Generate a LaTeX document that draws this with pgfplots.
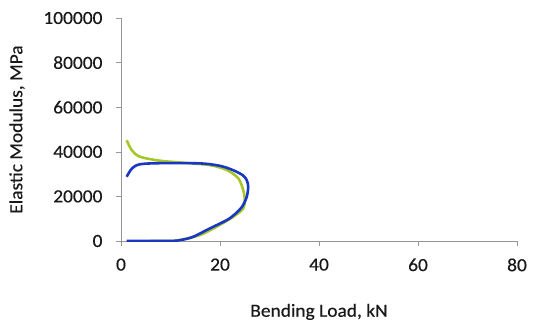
\documentclass[border=0pt]{standalone}
\usepackage{pgfplots}
\pgfplotsset{compat=1.18}
\usepackage{fontspec}
\setmainfont{Carlito}[FakeStretch=1.05,FakeBold=0.4]
\definecolor{bl}{RGB}{25,55,195}
\definecolor{gr}{RGB}{165,200,40}
\definecolor{ax}{RGB}{150,150,150}
\begin{document}
\begin{tikzpicture}[x=1pt,y=1pt]
\begin{axis}[
  at={(121pt,86pt)}, anchor=south west,
  width=396pt, height=223pt, scale only axis,
  xmin=0, xmax=80, ymin=0, ymax=100000,
  xtick={0,20,...,80}, ytick={0,20000,...,100000},
  axis x line*=bottom, axis y line*=left,
  axis line style={ax, line width=0.6pt, -},
  tick style={ax, line width=0.6pt},
  tick align=outside, major tick length=5pt,
  scaled y ticks=false,
  /pgf/number format/assume math mode=true,
  yticklabel={\pgfmathprintnumber[fixed,use comma=false,1000 sep={}]{\tick}},
  tick label style={font=\fontsize{18.5}{20}\selectfont, text=black!90},
  xticklabel style={yshift=-9pt},
  yticklabel style={xshift=-10pt},
  xlabel={Bending Load, kN}, ylabel={Elastic Modulus, MPa},
  label style={font=\fontsize{18.5}{20}\selectfont, text=black!90},
  xlabel style={at={(axis description cs:0.5,-0.318)}, anchor=center},
  ylabel style={at={(axis description cs:-0.2626,0.5)}, anchor=center},
]
\addplot[gr, line width=2.6pt, smooth] coordinates {
(1.15,45200) (2.15,40800) (3.8,37800) (7.9,36000) (12.6,35100) (18,34000)
(21.4,31800) (23.7,28100) (24.7,22800) (25,18400) (24.7,14600) (22.7,10900)
(19.3,6400) (16,2700) (12.6,750) (11,100) (6,0)
};
\addplot[bl, line width=2.6pt, smooth] coordinates {
(1.15,28800) (2.2,32500) (3.8,34400) (8,34900) (16,34800) (20,33700) (22.6,31800)
(24.6,29500) (25.4,27300) (25.7,24300) (25.4,19800) (24.5,15500) (23,12000) (21.4,9400) (18,5700)
(14.6,1900) (12.5,600) (11.2,130) (8,0) (1.15,0)
};
\end{axis}
\path[use as bounding box] (0,0) rectangle (536,327);
\end{tikzpicture}
\end{document}
